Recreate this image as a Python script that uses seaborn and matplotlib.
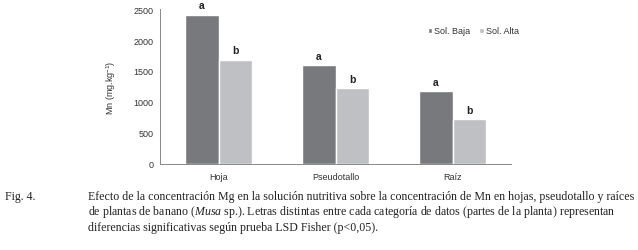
import pandas as pd
import matplotlib
matplotlib.use("Agg")
import matplotlib.pyplot as plt
import seaborn as sns

# data
partes = ["Hoja", "Pseudotallo", "Raíz"]
sol_baja = [2410, 1595, 1175]
sol_alta = [1685, 1225, 730]
letras_baja = ["a", "a", "a"]
letras_alta = ["b", "b", "b"]
series = ["Sol. Baja", "Sol. Alta"]
colores = ["#78797c", "#bfc0c3"]

df = pd.DataFrame({
    "parte": partes * 2,
    "serie": [series[0]] * 3 + [series[1]] * 3,
    "Mn": sol_baja + sol_alta,
})

sns.set_style("white")
plt.rcParams["font.family"] = ["Liberation Sans", "DejaVu Sans"]
plt.rcParams["mathtext.fontset"] = "custom"
plt.rcParams["mathtext.rm"] = "Liberation Serif"
plt.rcParams["mathtext.it"] = "Liberation Serif:italic"
plt.rcParams["mathtext.sf"] = "Liberation Sans"

fig = plt.figure(figsize=(6.38, 2.51), dpi=100)
ax = fig.add_axes([0.251, 0.343, 0.550, 0.617])

sns.barplot(data=df, x="parte", y="Mn", hue="serie", palette=colores,
            width=0.57, saturation=1, ax=ax, legend=True)

# letters over the bars
for cont, letras in zip(ax.containers, [letras_baja, letras_alta]):
    ax.bar_label(cont, labels=letras, padding=3, fontsize=7.5, fontweight="bold", color="#222222")

ax.set_ylim(0, 2500)
ax.set_xlim(-0.5, 2.5)
ax.set_yticks(range(0, 2501, 500))
ax.set_xticks([0.5, 1.5, 2.5], minor=True)
ax.tick_params(axis="y", labelsize=6.5, colors="#333333", length=3, direction="inout", width=0.6)
ax.tick_params(axis="x", which="major", labelsize=6.5, colors="#333333", length=0, pad=6)
ax.tick_params(axis="x", which="minor", length=3, direction="out", width=0.6, color="#888888")
ax.tick_params(axis="y", color="#888888")
ax.set_xlabel("")
ax.set_ylabel("Mn (mg.kg$^{\\mathsf{-1}}$)", fontsize=6.5, color="#333333", labelpad=12)
for s in ["top", "right"]:
    ax.spines[s].set_visible(False)
for s in ["left", "bottom"]:
    ax.spines[s].set_color("#888888")
    ax.spines[s].set_linewidth(0.7)

ax.legend(loc="upper left", bbox_to_anchor=(0.74, 0.94), frameon=False, ncol=2,
          fontsize=6.5, handlelength=0.5, handleheight=0.5, handletextpad=0.2,
          columnspacing=1.0, labelcolor="#333333")

# caption
cap = dict(fontsize=8.6, family=["Liberation Serif", "DejaVu Serif"], color="#222222", va="center")
fig.text(5 / 638, 1 - 197 / 251, "Fig. 4.", **cap)
fig.text(88 / 638, 1 - 197 / 251,
         "Efecto de la concentración Mg en la solución nutritiva sobre la concentración de Mn en hojas, pseudotallo y raíces", **cap)
fig.text(88 / 638, 1 - 212 / 251,
         "de plantas de banano ($\\it{Musa}$ sp.). Letras distintas entre cada categoría de datos (partes de la planta) representan", **cap)
fig.text(88 / 638, 1 - 228 / 251,
         "diferencias significativas según prueba LSD Fisher (p<0,05).", **cap)

fig.savefig("out.png", dpi=100)
